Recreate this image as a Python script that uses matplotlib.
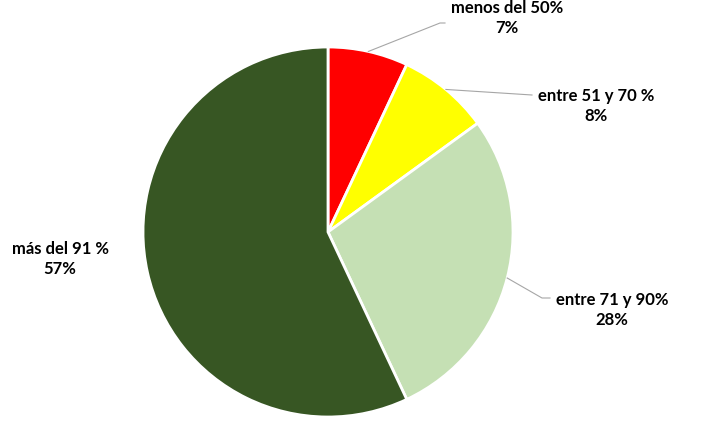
import numpy as np
import matplotlib.pyplot as plt

labels = ['menos del 50%', 'entre 51 y 70 %', 'entre 71 y 90%', 'más del 91 %']
values = [7, 8, 28, 57]
colors = ['#FF0000', '#FFFF00', '#C5E0B4', '#375623']

# posiciones en pixeles de la imagen original
cx, cy, rad = 328, 233, 185
text_px = [(507, 18), (596, 106), (612, 310), (60, 259)]
elbow_px = [(440, 24), (532, 96), (542, 299), None]
end_px = [(445, 24), (532, 96), (550, 299), None]


def px(x, y):
    return (x - cx) / rad, (cy - y) / rad


fig = plt.figure(figsize=(7.15, 4.27), dpi=100)
ax = fig.add_axes([0, 0, 1, 1])

wedges, _ = ax.pie(values, colors=colors, startangle=90, counterclock=False,
                   radius=1, center=(0, 0),
                   wedgeprops=dict(edgecolor='white', linewidth=2))

for i, w in enumerate(wedges):
    tx, ty = px(*text_px[i])
    ax.text(tx, ty, '{}\n{}%'.format(labels[i], values[i]), ha='center', va='center',
            fontsize=12, fontweight='bold', family='Lato', linespacing=1.35, color='black')
    if elbow_px[i] is not None:
        ang = np.deg2rad((w.theta1 + w.theta2) / 2)
        x0, y0 = np.cos(ang), np.sin(ang)
        x1, y1 = px(*elbow_px[i])
        x2, y2 = px(*end_px[i])
        ax.plot([x0, x1, x2], [y0, y1, y2], color='#A6A6A6', linewidth=0.8)

ax.set_aspect('auto')
ax.set_xlim(-cx / rad, (715 - cx) / rad)
ax.set_ylim(-(427 - cy) / rad, cy / rad)
ax.axis('off')

fig.savefig('out.png', dpi=100)
